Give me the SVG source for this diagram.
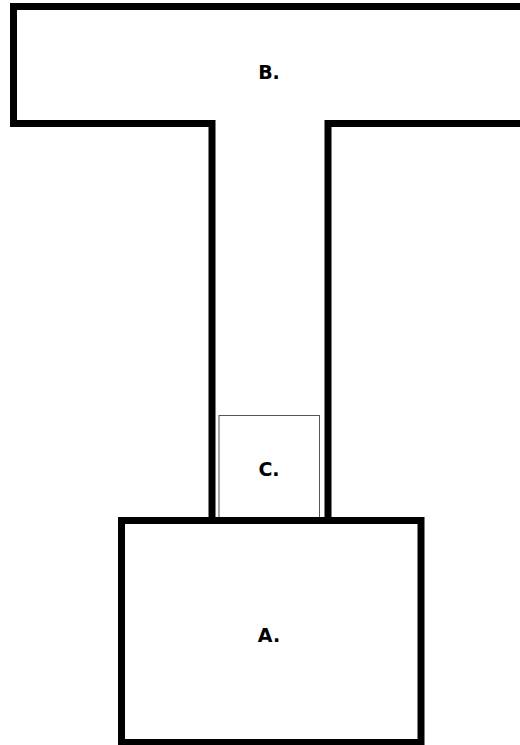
<svg xmlns="http://www.w3.org/2000/svg" width="520" height="745" viewBox="0 0 520 745">
<style>
.thick{fill:#fff;stroke:#000;stroke-width:7}
.thin{fill:#fff;stroke:#555;stroke-width:1}
.lbl{font-family:"DejaVu Sans",Verdana,sans-serif;font-weight:bold;font-size:19px;fill:#000;text-anchor:middle}
</style>
<rect width="520" height="745" fill="#fff"/>
<g id="B">
<path class="thick" d="M212 525 V123.5 H13.5 V6.5 H530 V123.5 H328 V525"/>
<text class="lbl" x="269" y="79">B.</text>
</g>
<g id="C">
<rect class="thin" x="219" y="415.5" width="100.5" height="103"/>
<text class="lbl" x="269" y="476">C.</text>
</g>
<g id="A">
<rect class="thick" x="121.5" y="520.5" width="299.5" height="222"/>
<text class="lbl" x="269" y="642">A.</text>
</g>
<g id="connectors"/>
</svg>
